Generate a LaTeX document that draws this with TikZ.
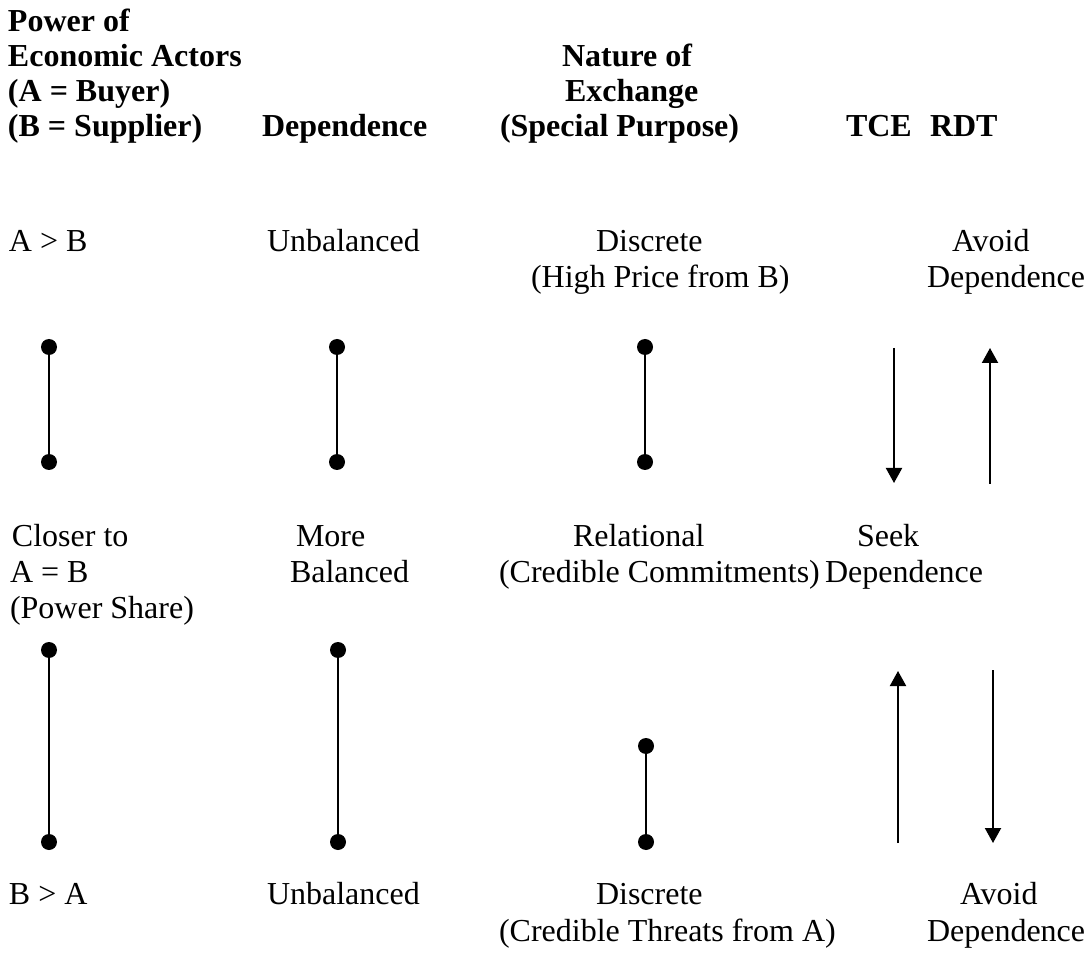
\documentclass[tikz,border=0pt]{standalone}
\usepackage{fontspec}
\setmainfont{Liberation Serif}
\usetikzlibrary{arrows.meta}
\tikzset{
  txt/.style={anchor=base west, inner sep=0pt, outer sep=0pt, font=\fontsize{32}{35.5}\selectfont},
  hd/.style={txt, font=\fontsize{32}{35.5}\selectfont\bfseries},
  dot/.style={circle, fill=black, draw=none, minimum size=16pt, inner sep=0pt},
  link/.style={line width=2pt},
  arr/.style={line width=2pt, -{Triangle[width=16pt,length=15pt]}}
}
\begin{document}
\begin{tikzpicture}[x=1pt,y=-1pt]
\useasboundingbox (0,0) rectangle (1085,957);

% column headings
\node[hd] (h1a) at (8,32)  {Power of};
\node[hd] (h1b) at (8,67)  {Economic Actors};
\node[hd] (h1c) at (8,102) {(A = Buyer)};
\node[hd] (h1d) at (8,137) {(B = Supplier)};
\node[hd] (h2)  at (262,137) {Dependence};
\node[hd] (h3a) at (562,67)  {Nature of};
\node[hd] (h3b) at (565,102) {Exchange};
\node[hd] (h3c) at (500,137) {(Special Purpose)};
\node[hd] (h4)  at (846,137) {TCE};
\node[hd] (h5)  at (930,137) {RDT};

% first row: buyer dominant
\node[txt] (r1a)  at (9,252)   {A > B};
\node[txt] (r1b)  at (267,252) {Unbalanced};
\node[txt] (r1c)  at (596,252) {Discrete};
\node[txt] (r1c2) at (531,288) {(High Price from B)};
\node[txt] (r1d)  at (952,252) {Avoid};
\node[txt] (r1d2) at (927,288) {Dependence};

% second row: balanced power
\node[txt] (r2a)  at (12,546)  {Closer to};
\node[txt] (r2a2) at (10,582)  {A = B};
\node[txt] (r2a3) at (10,618)  {(Power Share)};
\node[txt] (r2b)  at (296,546) {More};
\node[txt] (r2b2) at (290,582) {Balanced};
\node[txt] (r2c)  at (573,546) {Relational};
\node[txt] (r2c2) at (499,582) {(Credible Commitments)};
\node[txt] (r2d)  at (857,546) {Seek};
\node[txt] (r2d2) at (825,582) {Dependence};

% third row: supplier dominant
\node[txt] (r3a)  at (9,904)   {B > A};
\node[txt] (r3b)  at (267,904) {Unbalanced};
\node[txt] (r3c)  at (596,904) {Discrete};
\node[txt] (r3c2) at (499,941) {(Credible Threats from A)};
\node[txt] (r3d)  at (960,904) {Avoid};
\node[txt] (r3d2) at (927,941) {Dependence};

% upper dumbbells
\node[dot] (u1t) at (49,347)  {};
\node[dot] (u1b) at (49,462)  {};
\node[dot] (u2t) at (337,347) {};
\node[dot] (u2b) at (337,462) {};
\node[dot] (u3t) at (645,347) {};
\node[dot] (u3b) at (645,462) {};
\draw[link] (u1t) -- (u1b);
\draw[link] (u2t) -- (u2b);
\draw[link] (u3t) -- (u3b);

% lower dumbbells
\node[dot] (l1t) at (49,650)  {};
\node[dot] (l1b) at (49,842)  {};
\node[dot] (l2t) at (338,650) {};
\node[dot] (l2b) at (338,842) {};
\node[dot] (l3t) at (646,746) {};
\node[dot] (l3b) at (646,842) {};
\draw[link] (l1t) -- (l1b);
\draw[link] (l2t) -- (l2b);
\draw[link] (l3t) -- (l3b);

% TCE / RDT arrows
\coordinate (a1s) at (894,348);
\coordinate (a1e) at (894,483);
\coordinate (a2s) at (990,484);
\coordinate (a2e) at (990,348);
\coordinate (a3s) at (898,843);
\coordinate (a3e) at (898,671);
\coordinate (a4s) at (993,670);
\coordinate (a4e) at (993,843);
\draw[arr] (a1s) -- (a1e);
\draw[arr] (a2s) -- (a2e);
\draw[arr] (a3s) -- (a3e);
\draw[arr] (a4s) -- (a4e);
\end{tikzpicture}
\end{document}
